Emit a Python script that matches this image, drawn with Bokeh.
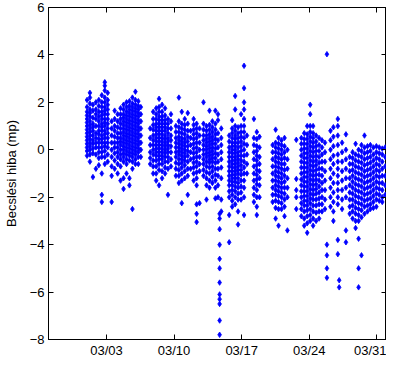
from bokeh.plotting import figure
from bokeh.models import (FixedTicker, LinearAxis, Range1d, CustomJSTickFormatter,
                          ColumnDataSource)
from bokeh.embed import file_html
from bokeh.resources import INLINE

# ---- data: x = days since 02/25, y = estimation error in seconds ----
x_days_range = (0, 35)
y_range_vals = (-8, 6)
tick_days = [6, 13, 20, 27, 34]
tick_labels = ["03/03", "03/10", "03/17", "03/24", "03/31"]
y_ticks = [-8, -6, -4, -2, 0, 2, 4, 6]
y_label = "Becslési hiba (mp)"

band_a = [
    (3.99, [2.1, 1.8, 1.6, 1.45, 1.3, 1.15, 1.0, 0.85, 0.7, 0.55, 0.4, 0.25, 0.1, -0.05, -0.25]),
    (4.29, [2.4, 2.2, 1.95, 1.7, 1.55, 1.4, 1.2, 1.05, 0.9, 0.75, 0.6, 0.45, 0.3, 0.15, 0.0, -0.2, -0.5]),
    (4.60, [1.9, 1.65, 1.35, 1.1, 0.95, 0.8, 0.6, 0.4, 0.25, 0.05, -0.15, -1.15]),
    (4.91, [2.0, 1.7, 1.5, 1.3, 1.0, 0.7, 0.5, 0.3, 0.1, -0.2, -0.8]),
    (5.21, [2.1, 1.85, 1.6, 1.4, 1.2, 1.0, 0.8, 0.65, 0.45, 0.3, 0.1, -0.1, -0.35, -0.65]),
    (5.52, [2.3, 2.0, 1.8, 1.6, 1.45, 1.3, 1.1, 0.95, 0.8, 0.6, 0.45, 0.3, 0.1, -0.1, -0.3, -1.0, -1.9, -2.2]),
    (5.83, [2.85, 2.7, 2.5, 2.2, 2.0, 1.8, 1.65, 1.5, 1.3, 1.15, 1.0, 0.8, 0.65, 0.5, 0.3, 0.15, -0.05, -0.3, -0.6]),
    (6.13, [2.4, 2.1, 1.9, 1.7, 1.5, 1.3, 1.1, 0.9, 0.7, 0.5, 0.3, 0.1, -0.2, -0.5]),
]
band_b = [
    (6.54, [1.2, 0.9, 0.6, 0.3, 0.0, -0.3, -0.7, -1.1, -2.2]),
    (6.85, [1.65, 1.3, 1.0, 0.8, 0.55, 0.3, 0.1, -0.15, -0.45, -0.8]),
    (7.16, [1.5, 1.2, 0.95, 0.7, 0.5, 0.3, 0.1, -0.1, -0.3, -0.6, -1.0]),
    (7.46, [1.75, 1.5, 1.3, 1.1, 0.9, 0.7, 0.5, 0.35, 0.2, 0.0, -0.2, -0.4, -0.7, -1.3]),
    (7.77, [1.9, 1.7, 1.5, 1.35, 1.2, 1.05, 0.9, 0.75, 0.6, 0.45, 0.3, 0.15, 0.0, -0.15, -0.3, -0.5, -1.2, -1.65]),
    (8.08, [2.0, 1.8, 1.6, 1.45, 1.3, 1.15, 1.0, 0.85, 0.7, 0.55, 0.4, 0.25, 0.1, -0.05, -0.2, -0.4, -0.6, -1.0]),
    (8.38, [2.05, 1.85, 1.7, 1.55, 1.4, 1.25, 1.1, 0.95, 0.8, 0.65, 0.5, 0.35, 0.2, 0.05, -0.1, -0.25, -0.45, -1.2, -1.5]),
    (8.69, [2.2, 1.95, 1.8, 1.65, 1.5, 1.35, 1.2, 1.05, 0.9, 0.75, 0.6, 0.45, 0.3, 0.15, 0.0, -0.15, -0.3, -0.5, -0.8, -2.5]),
    (9.00, [2.45, 2.1, 1.9, 1.75, 1.6, 1.45, 1.3, 1.15, 1.0, 0.85, 0.7, 0.55, 0.4, 0.25, 0.1, -0.05, -0.2, -0.4, -0.6]),
    (9.30, [2.05, 1.85, 1.7, 1.55, 1.4, 1.25, 1.1, 0.95, 0.8, 0.65, 0.5, 0.35, 0.2, 0.05, -0.1, -0.3, -0.6]),
    (9.56, [1.8, 1.5, 1.2, 0.9, 0.6, 0.3, 0.0, -0.3]),
]
band_c = [
    (10.53, [0.9, 0.5, 0.2, -0.1, -0.35, -0.6]),
    (10.84, [1.6, 1.3, 1.05, 0.85, 0.6, 0.4, 0.2, 0.0, -0.2, -0.45, -0.7, -1.0]),
    (11.15, [1.75, 1.5, 1.3, 1.1, 0.95, 0.8, 0.65, 0.5, 0.35, 0.2, 0.05, -0.1, -0.25, -0.45, -0.7, -1.0, -1.3]),
    (11.45, [2.15, 1.8, 1.6, 1.4, 1.25, 1.1, 0.95, 0.8, 0.65, 0.5, 0.35, 0.2, 0.05, -0.1, -0.25, -0.4, -0.6, -0.85, -1.5]),
    (11.76, [1.9, 1.6, 1.4, 1.25, 1.1, 0.95, 0.8, 0.65, 0.5, 0.35, 0.2, 0.05, -0.1, -0.25, -0.4, -0.6, -0.9, -1.2]),
    (12.07, [1.75, 1.45, 1.25, 1.1, 0.95, 0.8, 0.6, 0.45, 0.3, 0.15, 0.0, -0.15, -0.3, -0.5, -0.75, -1.0]),
    (12.37, [1.3, 1.1, 0.9, 0.7, 0.5, 0.35, 0.2, 0.05, -0.1, -0.3, -0.5, -0.8, -1.9]),
    (12.68, [1.5, 1.2, 0.9, 0.6, 0.4, 0.15, -0.1, -0.4, -0.7]),
]
band_d = [
    (13.19, [1.0, 0.75, 0.5, 0.3, 0.1, -0.1, -0.3, -0.55, -0.8, -1.1]),
    (13.50, [2.2, 1.2, 0.95, 0.75, 0.55, 0.4, 0.25, 0.1, -0.05, -0.2, -0.4, -0.6, -0.85, -1.1, -1.4]),
    (13.80, [1.6, 1.1, 0.9, 0.7, 0.5, 0.35, 0.2, 0.05, -0.1, -0.25, -0.4, -0.55, -0.75, -1.0, -1.3, -2.25]),
    (14.11, [1.3, 1.05, 0.85, 0.65, 0.45, 0.3, 0.15, 0.0, -0.15, -0.3, -0.45, -0.65, -0.9, -1.2]),
    (14.42, [1.55, 1.1, 0.8, 0.55, 0.35, 0.15, -0.05, -0.25, -0.5, -0.8, -1.1, -1.9]),
    (14.72, [0.8, 0.5, 0.2, -0.1, -0.4, -0.8]),
]
band_e = [
    (15.03, [1.3, 1.05, 0.85, 0.65, 0.45, 0.25, 0.05, -0.15, -0.35, -0.55, -0.75, -1.0, -1.3]),
    (15.34, [1.1, 0.9, 0.7, 0.5, 0.3, 0.1, -0.1, -0.3, -0.5, -0.7, -0.95, -1.2, -1.5, -2.3, -2.7, -3.05]),
    (15.64, [0.9, 0.6, 0.3, 0.0, -0.3, -0.6, -0.9, -2.25]),
]
band_f = [
    (16.05, [2.0, 1.1, 0.85, 0.6, 0.4, 0.2, 0.0, -0.2, -0.4, -0.6, -0.85, -1.1]),
    (16.36, [1.0, 0.8, 0.6, 0.45, 0.3, 0.15, 0.0, -0.15, -0.3, -0.5, -0.7, -0.95, -1.2, -1.5, -2.1]),
    (16.67, [1.65, 1.05, 0.85, 0.65, 0.5, 0.35, 0.2, 0.05, -0.1, -0.25, -0.4, -0.55, -0.75, -1.0, -1.3, -1.6]),
    (16.97, [1.2, 0.95, 0.75, 0.55, 0.4, 0.25, 0.1, -0.05, -0.2, -0.35, -0.5, -0.7, -0.9, -1.15, -1.4]),
    (17.28, [1.65, 1.1, 0.85, 0.65, 0.45, 0.25, 0.05, -0.15, -0.35, -0.55, -0.8, -1.05, -1.3, -1.6, -2.05]),
    (17.55, [1.5, 1.25, 0.7, 0.4, 0.1, -0.2, -0.5, -0.8, -1.1, -1.5, -2.0]),
    (17.72, [-2.7, -2.9, -3.35, -4.0, -4.6, -5.0, -5.6, -6.1, -6.3, -6.5, -7.2, -7.8]),
    (17.89, [0.9, 0.5, 0.2, -0.1, -0.4, -0.75, -1.2, -2.1, -2.6]),
]
band_g = [
    (18.71, [0.6, 0.35, 0.1, -0.1, -0.3, -0.5, -0.7, -0.9, -1.1, -1.3, -1.5, -1.75, -2.0, -2.75, -3.9]),
    (19.02, [1.25, 0.9, 0.7, 0.5, 0.3, 0.15, 0.0, -0.15, -0.3, -0.45, -0.6, -0.75, -0.9, -1.05, -1.2, -1.35, -1.5, -1.7, -1.9, -2.15, -2.4]),
    (19.33, [2.27, 1.7, 1.0, 0.8, 0.6, 0.45, 0.3, 0.15, 0.0, -0.15, -0.3, -0.45, -0.6, -0.75, -0.9, -1.05, -1.2, -1.35, -1.55, -1.75, -2.0, -2.3]),
    (19.63, [0.95, 0.7, 0.5, 0.3, 0.1, -0.1, -0.25, -0.4, -0.55, -0.7, -0.85, -1.0, -1.2, -1.4, -1.6, -1.85, -2.1, -2.6, -3.15]),
    (19.94, [1.5, 1.0, 0.75, 0.55, 0.35, 0.15, -0.05, -0.25, -0.45, -0.65, -0.85, -1.05, -1.3, -1.55, -1.8, -2.1]),
    (20.25, [3.54, 2.6, 2.0, 1.7, 1.3, 1.0, 0.75, 0.5, 0.25, 0.0, -0.25, -0.5, -0.75, -1.0, -1.3, -1.6, -2.0, -2.75]),
    (20.55, [0.6, 0.2, -0.2, -0.6, -1.0]),
]
band_h = [
    (21.27, [1.3, 0.5, 0.2, -0.1, -0.4, -0.7, -1.0, -1.3, -1.6, -1.9, -2.2]),
    (21.57, [0.75, 0.45, 0.15, -0.05, -0.25, -0.45, -0.65, -0.85, -1.05, -1.25, -1.45, -1.7, -2.0, -2.4, -2.75]),
    (21.85, [0.55, 0.1, -0.3, -0.6, -0.9, -1.2, -1.5, -2.0]),
]
band_i = [
    (23.21, [0.2, -0.1, -0.4, -0.7, -1.0, -1.3, -1.6, -1.9, -2.2]),
    (23.52, [0.85, 0.3, 0.1, -0.1, -0.3, -0.5, -0.7, -0.9, -1.1, -1.3, -1.5, -1.7, -1.9, -2.15, -2.45, -2.9]),
    (23.82, [0.5, 0.25, 0.05, -0.15, -0.35, -0.55, -0.75, -0.95, -1.15, -1.35, -1.55, -1.75, -1.95, -2.2, -2.5, -3.2]),
    (24.13, [0.4, 0.2, 0.0, -0.2, -0.4, -0.6, -0.8, -1.0, -1.2, -1.4, -1.6, -1.8, -2.0, -2.25, -2.5]),
    (24.44, [0.5, 0.15, -0.1, -0.35, -0.6, -0.85, -1.1, -1.35, -1.6, -1.85, -2.1, -2.4, -2.8]),
    (24.74, [0.0, -0.4, -0.8, -1.2, -1.6, -2.0, -3.4]),
    (25.66, [0.42, -1.23, -1.7, -2.0, -2.5]),
]
band_j = [
    (26.18, [0.5, 0.25, 0.0, -0.25, -0.5, -0.75, -1.0, -1.25, -1.5, -1.75, -2.0, -2.25, -2.5, -2.8]),
    (26.48, [0.7, 0.45, 0.25, 0.05, -0.15, -0.35, -0.55, -0.75, -0.95, -1.15, -1.35, -1.55, -1.75, -1.95, -2.15, -2.35, -2.6, -2.9, -3.2]),
    (26.79, [1.0, 0.65, 0.45, 0.25, 0.05, -0.15, -0.35, -0.55, -0.75, -0.95, -1.15, -1.35, -1.55, -1.75, -1.95, -2.15, -2.35, -2.55, -2.8, -3.1, -3.5]),
    (27.10, [1.9, 1.5, 1.0, 0.75, 0.55, 0.35, 0.15, -0.05, -0.25, -0.45, -0.65, -0.85, -1.05, -1.25, -1.45, -1.65, -1.85, -2.05, -2.25, -2.5, -2.75, -3.0]),
    (27.40, [1.0, 0.7, 0.5, 0.3, 0.1, -0.1, -0.3, -0.5, -0.7, -0.9, -1.1, -1.3, -1.5, -1.7, -1.9, -2.1, -2.35, -2.6, -2.9, -3.2]),
    (27.71, [0.6, 0.35, 0.15, -0.05, -0.25, -0.45, -0.65, -0.85, -1.05, -1.25, -1.45, -1.65, -1.85, -2.1, -2.35, -2.65, -3.0]),
    (28.02, [0.5, 0.2, -0.05, -0.3, -0.55, -0.8, -1.05, -1.3, -1.55, -1.8, -2.05, -2.3, -2.6, -2.9]),
    (28.32, [0.4, 0.1, -0.2, -0.5, -0.8, -1.1, -1.4, -1.7, -2.0, -2.3, -2.6]),
    (28.63, [0.3, -0.1, -0.5, -0.9, -1.3, -1.7, -2.1, -2.5]),
    (28.83, [4.03, -4.0, -4.45, -5.0, -5.4]),
]
band_k = [
    (29.20, [0.8, 0.4, 0.0, -0.4, -0.8, -1.2, -1.6, -2.0, -2.4]),
    (29.50, [0.95, 0.55, 0.15, -0.25, -0.6, -1.0, -1.4, -1.8, -2.2, -2.6, -3.0]),
    (29.96, [1.3, 1.0, 0.6, 0.2, -0.2, -0.5, -0.8, -1.1, -1.4, -1.7, -2.0, -2.3, -3.8, -4.4]),
    (30.10, [-5.5, -5.8]),
    (30.40, [0.3, -0.1, -0.5, -0.9, -1.3, -1.7, -2.1, -2.5]),
    (30.80, [0.65, 0.0, -0.4, -0.8, -1.2, -1.6, -2.0, -3.4, -3.9]),
]
band_l = [
    (31.19, [-0.3, -0.6, -0.9, -1.2, -1.5, -1.8, -2.1, -2.4, -2.7]),
    (31.49, [-0.1, -0.35, -0.6, -0.85, -1.1, -1.35, -1.6, -1.85, -2.1, -2.35, -2.6, -2.9]),
    (31.80, [0.25, -0.2, -0.45, -0.7, -0.95, -1.2, -1.45, -1.7, -1.95, -2.2, -2.45, -2.7, -3.0, -3.3]),
    (32.11, [0.0, -0.25, -0.5, -0.75, -1.0, -1.25, -1.5, -1.75, -2.0, -2.25, -2.5, -2.75, -3.0, -3.75, -5.0, -5.8]),
    (32.41, [0.2, -0.05, -0.3, -0.55, -0.8, -1.05, -1.3, -1.55, -1.8, -2.05, -2.3, -2.55, -2.85, -4.45]),
    (32.72, [0.6, 0.1, -0.15, -0.4, -0.65, -0.9, -1.15, -1.4, -1.65, -1.9, -2.15, -2.4, -2.7]),
    (33.03, [0.15, -0.1, -0.35, -0.6, -0.85, -1.1, -1.35, -1.6, -1.85, -2.1, -2.35, -2.6]),
    (33.33, [0.2, -0.05, -0.3, -0.55, -0.8, -1.05, -1.3, -1.55, -1.8, -2.05, -2.3, -2.5]),
    (33.64, [0.1, -0.2, -0.45, -0.7, -0.95, -1.2, -1.45, -1.7, -1.95, -2.2, -2.45]),
    (33.95, [0.15, -0.1, -0.35, -0.6, -0.85, -1.1, -1.35, -1.6, -1.85, -2.1, -2.4]),
    (34.25, [0.1, -0.15, -0.4, -0.65, -0.9, -1.15, -1.4, -1.65, -1.9, -2.15]),
    (34.56, [0.05, -0.2, -0.5, -0.8, -1.1, -1.4, -1.7, -2.0, -2.2]),
    (34.87, [0.1, -0.3, -0.7, -1.1, -1.5, -1.9]),
]

bands = [band_a, band_b, band_c, band_d, band_e, band_f, band_g,
         band_h, band_i, band_j, band_k, band_l]

xs, ys = [], []
for band in bands:
    for day, vals in band:
        for v in vals:
            xs.append(day)
            ys.append(v)

src = ColumnDataSource(data=dict(x=xs, y=ys))

FONT = "Liberation Sans"

p = figure(width=386, height=360, output_backend="svg", toolbar_location=None,
           x_range=Range1d(*x_days_range), y_range=Range1d(*y_range_vals),
           min_border_left=37, min_border_right=0, min_border_top=7, min_border_bottom=0)
p.background_fill_color = "white"
p.border_fill_color = "white"
p.outline_line_color = "black"
p.outline_line_width = 1
p.grid.visible = False

p.scatter("x", "y", source=src, marker="diamond", size=5.5,
          fill_color="#0000FF", line_color="#0000FF", line_width=0.8)


def style_axis(ax):
    ax.major_tick_in = 5
    ax.major_tick_out = 0
    ax.minor_tick_in = 0
    ax.minor_tick_out = 0
    ax.minor_tick_line_color = None
    ax.axis_line_color = "black"
    ax.major_tick_line_color = "black"
    ax.major_label_text_font = FONT
    ax.major_label_text_font_size = "13px"
    ax.major_label_text_color = "black"
    ax.axis_label_standoff = 0


xa = p.xaxis[0]
xa.ticker = FixedTicker(ticks=tick_days)
xa.major_label_overrides = {d: lab for d, lab in zip(tick_days, tick_labels)}
style_axis(xa)
xa.major_label_standoff = 3

ya = p.yaxis[0]
ya.ticker = FixedTicker(ticks=y_ticks)
style_axis(ya)
ya.major_label_standoff = 4
ya.axis_label = y_label
ya.axis_label_text_font = FONT
ya.axis_label_text_font_size = "13px"
ya.axis_label_text_font_style = "normal"
ya.axis_label_text_color = "black"
ya.axis_label_standoff = 8

blank = CustomJSTickFormatter(code="return ''")
top = LinearAxis(ticker=FixedTicker(ticks=tick_days), formatter=blank)
style_axis(top)
top.major_label_standoff = 0
top.major_label_text_font_size = "0px"
p.add_layout(top, "above")
right = LinearAxis(ticker=FixedTicker(ticks=y_ticks), formatter=blank)
style_axis(right)
right.major_label_standoff = 0
right.major_label_text_font_size = "0px"
p.add_layout(right, "right")

open("out.html", "w").write(file_html(p, INLINE))
